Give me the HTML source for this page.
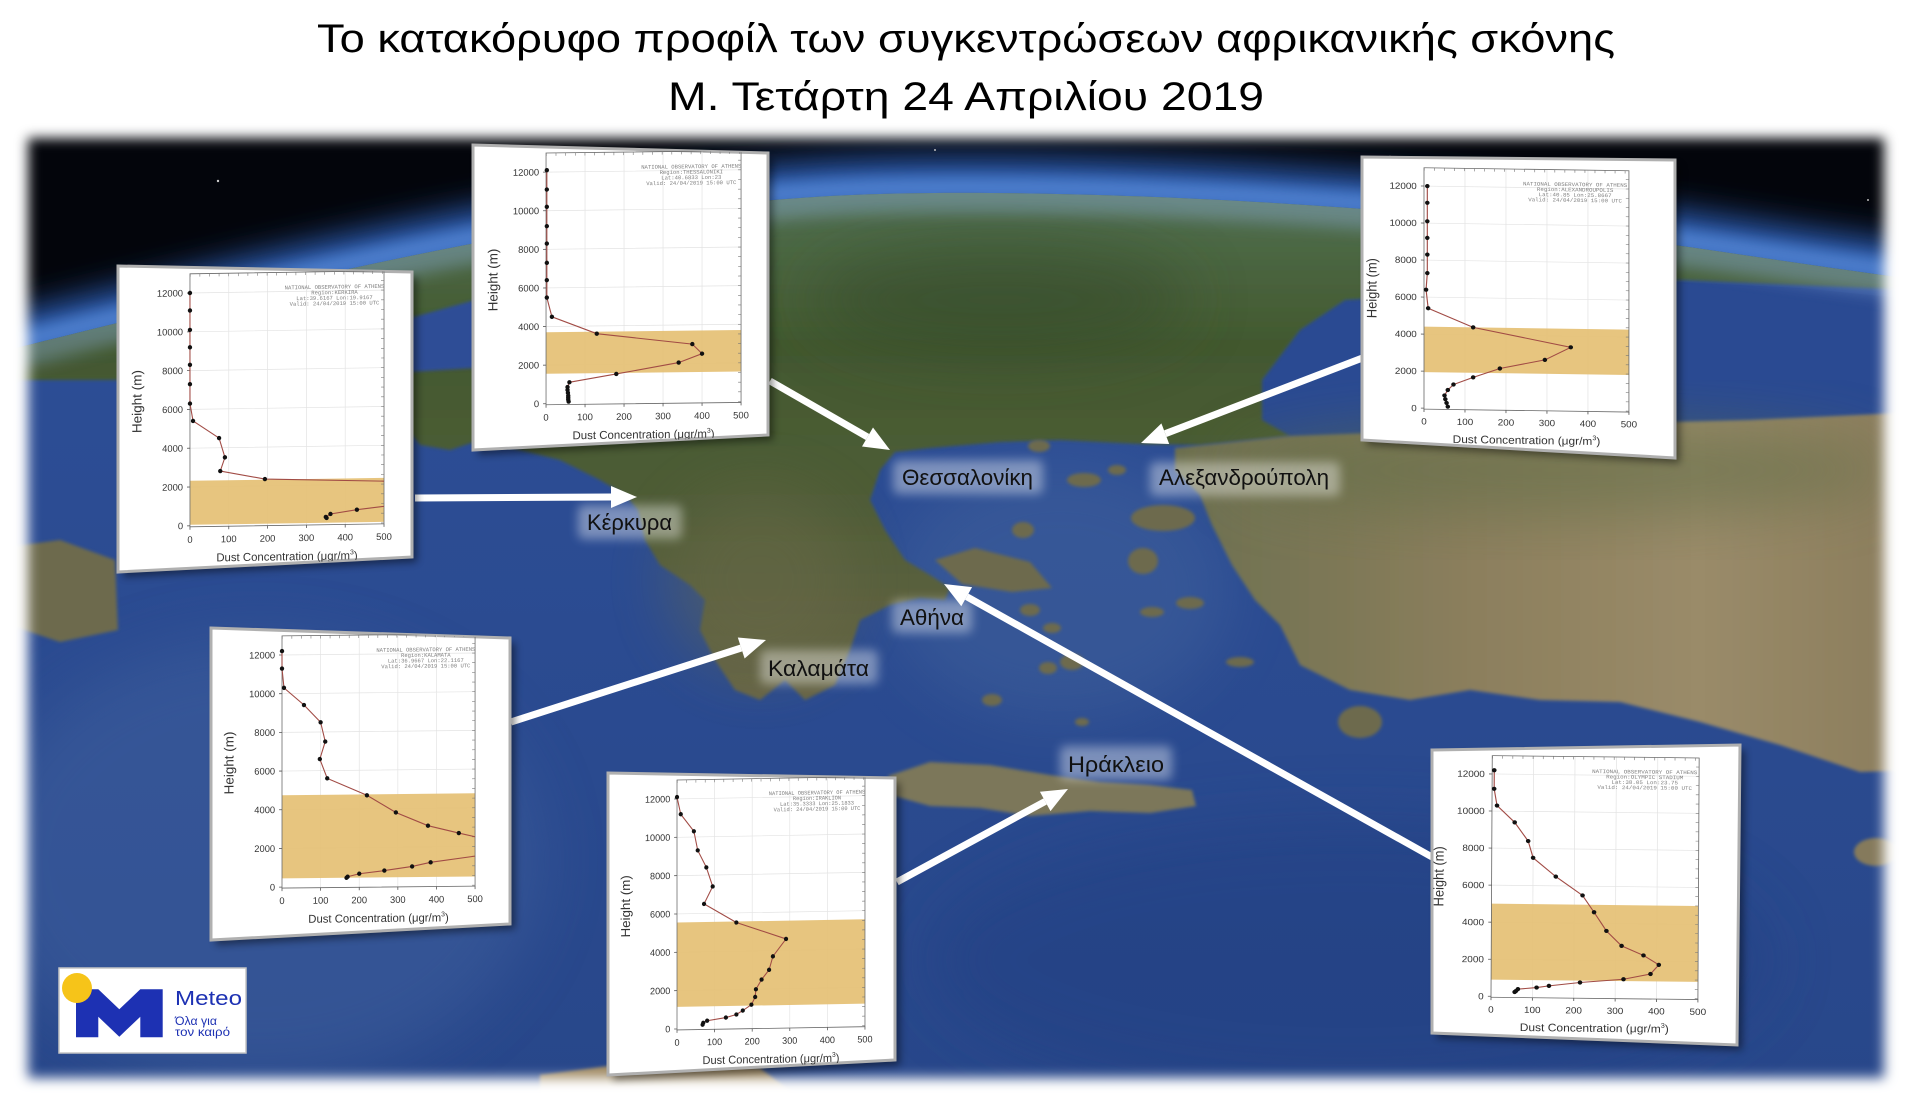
<!DOCTYPE html>
<html><head><meta charset="utf-8">
<style>
html,body{margin:0;padding:0;background:#fff;}
body{width:1920px;height:1099px;overflow:hidden;}
svg{display:block;}
</style></head>
<body>
<svg width="1920" height="1099" viewBox="0 0 1920 1099" xmlns="http://www.w3.org/2000/svg">
<defs>
 <filter id="fb6" x="-5%" y="-5%" width="110%" height="110%"><feGaussianBlur stdDeviation="6"/></filter>
 <filter id="glow" x="-10%" y="-40%" width="120%" height="180%"><feGaussianBlur stdDeviation="16"/></filter>
 <filter id="blurBig" x="-50%" y="-50%" width="200%" height="200%"><feGaussianBlur stdDeviation="30"/></filter>
 <filter id="soft" x="-10%" y="-10%" width="120%" height="120%"><feGaussianBlur stdDeviation="1.5"/></filter>
 <filter id="sh" x="-10%" y="-10%" width="130%" height="130%"><feGaussianBlur stdDeviation="4"/></filter>
 <filter id="haze" x="-30%" y="-60%" width="160%" height="220%"><feGaussianBlur stdDeviation="5"/></filter>
 <filter id="rim" x="-10%" y="-50%" width="120%" height="200%"><feGaussianBlur stdDeviation="8"/></filter>
 <mask id="mapMask" maskUnits="userSpaceOnUse" x="0" y="0" width="1920" height="1099">
   <rect x="28" y="138" width="1856" height="940" fill="#fff" filter="url(#fb6)"/>
 </mask>
 <clipPath id="earth"><path d="M0 352 C250 290 550 215 800 198 C900 190 1100 190 1350 208 C1550 222 1750 258 1920 280 L1920 1099 L0 1099Z"/></clipPath>
 <linearGradient id="seaG" gradientUnits="userSpaceOnUse" x1="0" y1="300" x2="0" y2="1099">
   <stop offset="0" stop-color="#2d4e96"/><stop offset="1" stop-color="#28478a"/>
 </linearGradient>
 <linearGradient id="landG" gradientUnits="userSpaceOnUse" x1="0" y1="190" x2="0" y2="700">
   <stop offset="0" stop-color="#527050"/><stop offset="0.3" stop-color="#42592f"/>
   <stop offset="0.65" stop-color="#515d38"/><stop offset="1" stop-color="#686647"/>
 </linearGradient>
 <linearGradient id="turkG" gradientUnits="userSpaceOnUse" x1="1180" y1="0" x2="1920" y2="0">
   <stop offset="0" stop-color="#6d7050"/><stop offset="0.4" stop-color="#8c7f5d"/>
   <stop offset="0.7" stop-color="#9a8b69"/><stop offset="1" stop-color="#8a7c5c"/>
 </linearGradient>
 <marker id="dot" markerWidth="6" markerHeight="6" refX="3" refY="3" markerUnits="userSpaceOnUse"><circle cx="3" cy="3" r="2.2" fill="#111"/></marker>
 <clipPath id="cp1"><polygon points="118,266 412,272 412,557 118,572"/></clipPath>
 <clipPath id="cp2"><polygon points="473,145 768,153 768,435 473,450"/></clipPath>
 <clipPath id="cp3"><polygon points="1362,157 1675,160 1675,458 1362,440"/></clipPath>
 <clipPath id="cp4"><polygon points="211,628 510,638 510,924 211,940"/></clipPath>
 <clipPath id="cp5"><polygon points="608,773 895,778 895,1060 608,1075"/></clipPath>
 <clipPath id="cp6"><polygon points="1432,750 1740,745 1737,1045 1432,1033"/></clipPath>
</defs>

<!-- Title -->
<g font-family="Liberation Sans, Arial, sans-serif" fill="#000" font-size="40">
 <text x="317" y="52" textLength="1298" lengthAdjust="spacingAndGlyphs">Το κατακόρυφο προφίλ των συγκεντρώσεων αφρικανικής σκόνης</text>
 <text x="668" y="110" textLength="596" lengthAdjust="spacingAndGlyphs">Μ. Τετάρτη 24 Απριλίου 2019</text>
</g>

<!-- Map -->
<g mask="url(#mapMask)">
 <rect x="0" y="100" width="1920" height="1000" fill="#03050b"/>
 <path d="M0 352 C250 290 550 215 800 198 C900 190 1100 190 1350 208 C1550 222 1750 258 1920 280 L1920 1099 L0 1099Z" transform="translate(0,-34)" fill="#2f5fb5" filter="url(#glow)"/>
 <path d="M0 352 C250 290 550 215 800 198 C900 190 1100 190 1350 208 C1550 222 1750 258 1920 280" transform="translate(0,-6)" fill="none" stroke="#5f92dc" stroke-width="16" opacity=".8" filter="url(#rim)"/>
 <circle cx="218" cy="181" r="1.2" fill="#ccc"/>
 <circle cx="1390" cy="157" r="1.2" fill="#ccc"/>
 <circle cx="935" cy="150" r="1" fill="#bbb"/>
 <circle cx="1868" cy="200" r="1" fill="#bbb"/>
 <g clip-path="url(#earth)">
  <rect x="0" y="150" width="1920" height="950" fill="url(#seaG)"/>
  <ellipse cx="1060" cy="590" rx="170" ry="130" fill="#46679f" opacity=".4" filter="url(#blurBig)"/>
  <ellipse cx="260" cy="860" rx="280" ry="220" fill="#40609e" opacity=".5" filter="url(#blurBig)"/>
  <ellipse cx="1350" cy="960" rx="420" ry="140" fill="#213f82" opacity=".5" filter="url(#blurBig)"/>
  <!-- Black sea -->
  <path d="M1345 300 L1300 330 L1262 380 L1262 420 L1290 436 L1400 432 L1600 424 L1750 420 L1920 412 L1920 300 L1800 288 L1681 282 L1500 292Z" fill="#2a4a92"/>
  <!-- Europe / Balkans / Greece -->
  <path filter="url(#soft)" fill="url(#landG)" d="M0 150 L1920 150 L1920 290 L1681 280 L1500 290 L1345 300 L1300 330 L1262 380 L1262 420 L1290 436 L1200 445 L1140 444 L1060 440 L1000 442 L930 448 L895 452 L880 470 L870 500 L885 530 L905 560 L930 575 L950 588 L945 600 L920 598 L890 605 L860 620 L850 650 L835 685 L805 700 L785 680 L760 700 L735 690 L715 660 L700 630 L705 600 L690 585 L660 565 L645 540 L638 510 L625 495 L600 480 L560 460 L520 450 L480 440 L450 450 L420 445 L400 420 L300 400 L118 380 L0 380Z"/>
  <ellipse cx="1000" cy="300" rx="190" ry="55" fill="#34492b" opacity=".55" filter="url(#blurBig)"/>
  <ellipse cx="760" cy="580" rx="90" ry="90" fill="#6a6a4a" opacity=".45" filter="url(#blurBig)"/>
  <!-- Adriatic strip -->
  <path d="M410 318 L475 300 L475 368 L410 372Z" fill="#2d4e96" filter="url(#soft)"/>
  <!-- Turkey -->
  <path filter="url(#soft)" fill="url(#turkG)" d="M1175 448 L1290 436 L1400 432 L1600 424 L1750 420 L1920 412 L1920 770 L1860 772 L1780 745 L1700 722 L1620 702 L1540 700 L1470 690 L1410 700 L1350 690 L1300 665 L1280 625 L1255 600 L1232 565 L1212 525 L1200 495 L1175 470Z"/>
  <ellipse cx="1560" cy="470" rx="330" ry="45" fill="#5d6c45" opacity=".55" filter="url(#blurBig)"/>
  <!-- islands -->
  <g fill="#6d6a4e" filter="url(#soft)">
   <ellipse cx="1039" cy="446" rx="11" ry="6"/>
   <ellipse cx="1117" cy="470" rx="9" ry="5"/>
   <ellipse cx="1084" cy="480" rx="17" ry="7"/>
   <ellipse cx="1163" cy="518" rx="32" ry="13"/>
   <ellipse cx="1143" cy="561" rx="15" ry="13"/>
   <ellipse cx="1023" cy="530" rx="11" ry="8"/>
   <path d="M935 560 L975 548 L1030 562 L1052 588 L1012 592 L962 584Z"/>
   <ellipse cx="1030" cy="610" rx="10" ry="6"/>
   <ellipse cx="1052" cy="628" rx="9" ry="5"/>
   <ellipse cx="1072" cy="662" rx="12" ry="8"/>
   <ellipse cx="1048" cy="668" rx="9" ry="6"/>
   <ellipse cx="992" cy="700" rx="10" ry="6"/>
   <ellipse cx="1082" cy="722" rx="7" ry="4"/>
   <ellipse cx="1190" cy="603" rx="14" ry="6"/>
   <ellipse cx="1152" cy="612" rx="12" ry="5"/>
   <ellipse cx="1240" cy="662" rx="14" ry="5"/>
   <ellipse cx="1360" cy="722" rx="22" ry="16"/>
   <path d="M0 548 L60 540 L115 560 L118 630 L60 642 L0 622Z"/>
  </g>
  <!-- Crete -->
  <path filter="url(#soft)" fill="#7b775a" d="M888 776 L930 762 L990 765 L1050 775 L1100 782 L1150 785 L1192 790 L1196 806 L1150 813 L1090 811 L1030 816 L980 808 L930 806 L894 796Z"/>
  <ellipse cx="1876" cy="852" rx="22" ry="14" fill="#857a5c" filter="url(#soft)"/>
  <path d="M540 1075 L640 1062 L760 1068 L800 1099 L540 1099Z" fill="#a08a62" filter="url(#soft)"/>
  <!-- horizon haze -->
  <path d="M0 352 C250 290 550 215 800 198 C900 190 1100 190 1350 208 C1550 222 1750 258 1920 280" fill="none" stroke="#8fb0e0" stroke-width="40" opacity=".4" filter="url(#rim)"/>
 </g>
</g>

<!-- Place labels -->
<g fill="#fff" opacity=".38" filter="url(#haze)">
 <rect x="893" y="460" width="150" height="34" rx="6"/>
 <rect x="1150" y="462" width="190" height="34" rx="6"/>
 <rect x="892" y="600" width="80" height="33" rx="6"/>
 <rect x="578" y="505" width="104" height="34" rx="6"/>
 <rect x="760" y="650" width="118" height="34" rx="6"/>
 <rect x="1060" y="746" width="112" height="34" rx="6"/>
</g>
<g font-family="Liberation Sans, Arial, sans-serif" font-size="22" fill="#111">
 <text x="902" y="485" textLength="131" lengthAdjust="spacingAndGlyphs">Θεσσαλονίκη</text>
 <text x="1159" y="485" textLength="170" lengthAdjust="spacingAndGlyphs">Αλεξανδρούπολη</text>
 <text x="900" y="625" textLength="64" lengthAdjust="spacingAndGlyphs">Αθήνα</text>
 <text x="587" y="530" textLength="85" lengthAdjust="spacingAndGlyphs">Κέρκυρα</text>
 <text x="768" y="676" textLength="101" lengthAdjust="spacingAndGlyphs">Καλαμάτα</text>
 <text x="1068" y="772" textLength="96" lengthAdjust="spacingAndGlyphs">Ηράκλειο</text>
</g>

<!-- Arrows -->
<g stroke="#fff" stroke-width="7" fill="none" stroke-linecap="butt">
 <line x1="415" y1="498" x2="612" y2="497"/>
 <line x1="770" y1="381" x2="867.5" y2="437"/>
 <line x1="1365" y1="357" x2="1165.3" y2="433.7"/>
 <line x1="1432" y1="857" x2="966.7" y2="596.7"/>
 <line x1="511" y1="722" x2="741.2" y2="648"/>
 <line x1="897" y1="882" x2="1045.2" y2="801.4"/>
</g>
<g fill="#fff">
 <polygon points="637,497 611,508 611,486"/>
 <polygon points="890,450 862,446.5 873,427.5"/>
 <polygon points="1141,443 1161.4,423.4 1169.2,444"/>
 <polygon points="944,584 972.1,587.1 961.3,606.3"/>
 <polygon points="766,640 744.6,658.5 737.8,637.5"/>
 <polygon points="1068,789 1050.5,811.1 1039.9,791.7"/>
</g>

<!-- Panel shadows and backgrounds -->
<g fill="#000" opacity=".45" filter="url(#sh)">
 <polygon points="123,271 417,277 417,562 123,577"/>
 <polygon points="478,150 773,158 773,440 478,455"/>
 <polygon points="1367,162 1680,165 1680,463 1367,445"/>
 <polygon points="216,633 515,643 515,929 216,945"/>
 <polygon points="613,778 900,783 900,1065 613,1080"/>
 <polygon points="1437,755 1745,750 1742,1050 1437,1038"/>
</g>
<g fill="#fff" stroke="#b0b0b0" stroke-width="3">
 <polygon points="118,266 412,272 412,557 118,572"/>
 <polygon points="473,145 768,153 768,435 473,450"/>
 <polygon points="1362,157 1675,160 1675,458 1362,440"/>
 <polygon points="211,628 510,638 510,924 211,940"/>
 <polygon points="608,773 895,778 895,1060 608,1075"/>
 <polygon points="1432,750 1740,745 1737,1045 1432,1033"/>
</g>

<!-- Panel 1: Kerkyra -->
<g clip-path="url(#cp1)"><g transform="matrix(0.99,-0.015,0,1,117.7,266.9)">
 <path d="M112.2 8V261M151.4 8V261M190.6 8V261M229.8 8V261M73 221.2H269M73 182.4H269M73 143.6H269M73 104.8H269M73 66H269M73 27.2H269" stroke="#e3e3e3" stroke-width=".7" fill="none"/>
 <rect x="73" y="215" width="196" height="44" fill="#e5c074" fill-opacity=".92"/>
 <rect x="73" y="8" width="196" height="253" fill="none" stroke="#6a6a6a" stroke-width=".8"/>
 <path d="M267.5 260.3V8M73 9.5H269" stroke="#777" stroke-width="3" stroke-dasharray=".6 9.1" fill="none"/>
 <path d="M73 260h-3M73 221.2h-3M73 182.4h-3M73 143.6h-3M73 104.8h-3M73 66h-3M73 27.2h-3M73 261v3M112.2 261v3M151.4 261v3M190.6 261v3M229.8 261v3M269 261v3" stroke="#555" stroke-width=".8"/>
 <polyline points="73,27.2 73,44.7 73,64.1 73,81.5 73,99 73,118.4 73,137.8 76.1,155.2 102.4,172.7 108.3,192.1 103.6,205.7 148.7,214.4 269,218.3" fill="none" stroke="#a14b45" stroke-width="1.1"/>
 <polyline points="269,243.5 241.6,246.4 214.9,250.3 210.2,253.2 211,254.2" fill="none" stroke="#a14b45" stroke-width="1.1"/>
 <polyline points="73,27.2 73,44.7 73,64.1 73,81.5 73,99 73,118.4 73,137.8 76.1,155.2 102.4,172.7 108.3,192.1 103.6,205.7 148.7,214.4" fill="none" stroke="none" marker-start="url(#dot)" marker-mid="url(#dot)" marker-end="url(#dot)"/>
 <polyline points="241.6,246.4 214.9,250.3 210.2,253.2 211,254.2" fill="none" stroke="none" marker-start="url(#dot)" marker-mid="url(#dot)" marker-end="url(#dot)"/>
 <g font-family="Liberation Mono, monospace" font-size="5.6" fill="#808080" text-anchor="middle">
  <text x="219" y="25">NATIONAL OBSERVATORY OF ATHENS</text>
  <text x="219" y="30.5">Region:KERKIRA</text>
  <text x="219" y="36">Lat:39.6167  Lon:19.9167</text>
  <text x="219" y="41.5">Valid: 24/04/2019 15:00 UTC</text>
 </g>
 <g font-family="Liberation Sans, Arial, sans-serif" fill="#333" font-size="9.5">
  <g text-anchor="end"><text x="66" y="263.3">0</text><text x="66" y="224.5">2000</text><text x="66" y="185.7">4000</text><text x="66" y="146.9">6000</text><text x="66" y="108.1">8000</text><text x="66" y="69.3">10000</text><text x="66" y="30.5">12000</text></g>
  <g text-anchor="middle"><text x="73" y="277">0</text><text x="112.2" y="277">100</text><text x="151.4" y="277">200</text><text x="190.6" y="277">300</text><text x="229.8" y="277">400</text><text x="269" y="277">500</text></g>
  <text x="171" y="296" font-size="11.5" text-anchor="middle">Dust Concentration (μgr/m<tspan font-size="7" dy="-5">3</tspan><tspan dy="5">)</tspan></text>
  <text transform="translate(24 135) rotate(-90)" font-size="13.5" text-anchor="middle">Height (m)</text>
 </g>
</g></g>

<!-- Panel 2: Thessaloniki -->
<g clip-path="url(#cp2)"><g transform="matrix(0.995,-0.0117,0,0.995,473.4,145.9)">
 <path d="M112.2 8V261M151.4 8V261M190.6 8V261M229.8 8V261M73 221.2H269M73 182.4H269M73 143.6H269M73 104.8H269M73 66H269M73 27.2H269" stroke="#e3e3e3" stroke-width=".7" fill="none"/>
 <rect x="73" y="188.2" width="196" height="41.7" fill="#e5c074" fill-opacity=".92"/>
 <rect x="73" y="8" width="196" height="253" fill="none" stroke="#6a6a6a" stroke-width=".8"/>
 <path d="M267.5 260.3V8M73 9.5H269" stroke="#777" stroke-width="3" stroke-dasharray=".6 9.1" fill="none"/>
 <path d="M73 260h-3M73 221.2h-3M73 182.4h-3M73 143.6h-3M73 104.8h-3M73 66h-3M73 27.2h-3M73 261v3M112.2 261v3M151.4 261v3M190.6 261v3M229.8 261v3M269 261v3" stroke="#555" stroke-width=".8"/>
 <polyline points="73.8,25.3 73.8,44.7 73.8,62.1 73.8,81.5 73.8,99 73.8,118.4 73.8,135.8 73.8,153.3 78.9,172.7 124,190.2 220,201.8 229.8,211.5 206.3,220.2 143.6,230.9 96.5,238.7 94.6,243.5 94.6,246.4 95,249.3 95.3,252.2 95.3,254.2 95.3,256.1 95.7,258.1" fill="none" stroke="#a14b45" stroke-width="1.1" marker-start="url(#dot)" marker-mid="url(#dot)" marker-end="url(#dot)"/>
 <g font-family="Liberation Mono, monospace" font-size="5.6" fill="#808080" text-anchor="middle">
  <text x="219" y="25">NATIONAL OBSERVATORY OF ATHENS</text>
  <text x="219" y="30.5">Region:THESSALONIKI</text>
  <text x="219" y="36">Lat:40.6833  Lon:23</text>
  <text x="219" y="41.5">Valid: 24/04/2019 15:00 UTC</text>
 </g>
 <g font-family="Liberation Sans, Arial, sans-serif" fill="#333" font-size="9.5">
  <g text-anchor="end"><text x="66" y="263.3">0</text><text x="66" y="224.5">2000</text><text x="66" y="185.7">4000</text><text x="66" y="146.9">6000</text><text x="66" y="108.1">8000</text><text x="66" y="69.3">10000</text><text x="66" y="30.5">12000</text></g>
  <g text-anchor="middle"><text x="73" y="277">0</text><text x="112.2" y="277">100</text><text x="151.4" y="277">200</text><text x="190.6" y="277">300</text><text x="229.8" y="277">400</text><text x="269" y="277">500</text></g>
  <text x="171" y="296" font-size="11.5" text-anchor="middle">Dust Concentration (μgr/m<tspan font-size="7" dy="-5">3</tspan><tspan dy="5">)</tspan></text>
  <text transform="translate(24 135) rotate(-90)" font-size="13.5" text-anchor="middle">Height (m)</text>
 </g>
</g></g>

<!-- Panel 3: Alexandroupoli -->
<g clip-path="url(#cp3)"><g transform="matrix(1.035,0.015,0,0.954,1361.9,159.2)">
 <path d="M99.6 8V261M139.2 8V261M178.8 8V261M218.4 8V261M60 221.2H258M60 182.4H258M60 143.6H258M60 104.8H258M60 66H258M60 27.2H258" stroke="#e3e3e3" stroke-width=".7" fill="none"/>
 <rect x="60" y="174.6" width="198" height="47.6" fill="#e5c074" fill-opacity=".92"/>
 <rect x="60" y="8" width="198" height="253" fill="none" stroke="#6a6a6a" stroke-width=".8"/>
 <path d="M256.5 260.3V8M60 9.5H258" stroke="#777" stroke-width="3" stroke-dasharray=".6 9.1" fill="none"/>
 <path d="M60 260h-3M60 221.2h-3M60 182.4h-3M60 143.6h-3M60 104.8h-3M60 66h-3M60 27.2h-3M60 261v3M99.6 261v3M139.2 261v3M178.8 261v3M218.4 261v3M258 261v3" stroke="#555" stroke-width=".8"/>
 <polyline points="63.2,27.2 63.2,44.7 63.2,64.1 63.2,81.5 63.2,99 63.2,118.4 62,135.8 64,155.2 107.5,174.6 201.8,194 176.8,207.6 133.3,217.3 107.5,227 88.5,234.8 83,240.6 79.8,246.4 80.6,250.3 81.8,254.2 83,258.1" fill="none" stroke="#a14b45" stroke-width="1.1" marker-start="url(#dot)" marker-mid="url(#dot)" marker-end="url(#dot)"/>
 <g font-family="Liberation Mono, monospace" font-size="5.6" fill="#808080" text-anchor="middle">
  <text x="206" y="25">NATIONAL OBSERVATORY OF ATHENS</text>
  <text x="206" y="30.5">Region:ALEXANDROUPOLIS</text>
  <text x="206" y="36">Lat:40.85  Lon:25.8667</text>
  <text x="206" y="41.5">Valid: 24/04/2019 15:00 UTC</text>
 </g>
 <g font-family="Liberation Sans, Arial, sans-serif" fill="#333" font-size="9.5">
  <g text-anchor="end"><text x="53" y="263.3">0</text><text x="53" y="224.5">2000</text><text x="53" y="185.7">4000</text><text x="53" y="146.9">6000</text><text x="53" y="108.1">8000</text><text x="53" y="69.3">10000</text><text x="53" y="30.5">12000</text></g>
  <g text-anchor="middle"><text x="60" y="277">0</text><text x="99.6" y="277">100</text><text x="139.2" y="277">200</text><text x="178.8" y="277">300</text><text x="218.4" y="277">400</text><text x="258" y="277">500</text></g>
  <text x="159" y="296" font-size="11.5" text-anchor="middle">Dust Concentration (μgr/m<tspan font-size="7" dy="-5">3</tspan><tspan dy="5">)</tspan></text>
  <text transform="translate(14 135) rotate(-90)" font-size="13.5" text-anchor="middle">Height (m)</text>
 </g>
</g></g>

<!-- Panel 4: Kalamata -->
<g clip-path="url(#cp4)"><g transform="matrix(0.985,-0.01,0,0.997,210.1,628.6)">
 <path d="M112.2 8V261M151.4 8V261M190.6 8V261M229.8 8V261M73 221.2H269M73 182.4H269M73 143.6H269M73 104.8H269M73 66H269M73 27.2H269" stroke="#e3e3e3" stroke-width=".7" fill="none"/>
 <rect x="73" y="167.9" width="196" height="83.4" fill="#e5c074" fill-opacity=".92"/>
 <rect x="73" y="8" width="196" height="253" fill="none" stroke="#6a6a6a" stroke-width=".8"/>
 <path d="M267.5 260.3V8M73 9.5H269" stroke="#777" stroke-width="3" stroke-dasharray=".6 9.1" fill="none"/>
 <path d="M73 260h-3M73 221.2h-3M73 182.4h-3M73 143.6h-3M73 104.8h-3M73 66h-3M73 27.2h-3M73 261v3M112.2 261v3M151.4 261v3M190.6 261v3M229.8 261v3M269 261v3" stroke="#555" stroke-width=".8"/>
 <polyline points="73,23.3 73,40.8 75,60.2 95.3,77.6 112.2,95.1 116.9,114.5 111.4,132 118.9,151.4 159.2,168.8 188.6,186.3 221.2,199.9 252.5,207.6 269,211.5" fill="none" stroke="#a14b45" stroke-width="1.1"/>
 <polyline points="269,230.9 223.9,236.7 205.1,240.6 176.9,244.5 151.4,247.4 139.6,250.3 138.5,251.3" fill="none" stroke="#a14b45" stroke-width="1.1"/>
 <polyline points="73,23.3 73,40.8 75,60.2 95.3,77.6 112.2,95.1 116.9,114.5 111.4,132 118.9,151.4 159.2,168.8 188.6,186.3 221.2,199.9 252.5,207.6" fill="none" stroke="none" marker-start="url(#dot)" marker-mid="url(#dot)" marker-end="url(#dot)"/>
 <polyline points="223.9,236.7 205.1,240.6 176.9,244.5 151.4,247.4 139.6,250.3 138.5,251.3" fill="none" stroke="none" marker-start="url(#dot)" marker-mid="url(#dot)" marker-end="url(#dot)"/>
 <g font-family="Liberation Mono, monospace" font-size="5.6" fill="#808080" text-anchor="middle">
  <text x="219" y="25">NATIONAL OBSERVATORY OF ATHENS</text>
  <text x="219" y="30.5">Region:KALAMATA</text>
  <text x="219" y="36">Lat:36.9667  Lon:22.1167</text>
  <text x="219" y="41.5">Valid: 24/04/2019 15:00 UTC</text>
 </g>
 <g font-family="Liberation Sans, Arial, sans-serif" fill="#333" font-size="9.5">
  <g text-anchor="end"><text x="66" y="263.3">0</text><text x="66" y="224.5">2000</text><text x="66" y="185.7">4000</text><text x="66" y="146.9">6000</text><text x="66" y="108.1">8000</text><text x="66" y="69.3">10000</text><text x="66" y="30.5">12000</text></g>
  <g text-anchor="middle"><text x="73" y="277">0</text><text x="112.2" y="277">100</text><text x="151.4" y="277">200</text><text x="190.6" y="277">300</text><text x="229.8" y="277">400</text><text x="269" y="277">500</text></g>
  <text x="171" y="296" font-size="11.5" text-anchor="middle">Dust Concentration (μgr/m<tspan font-size="7" dy="-5">3</tspan><tspan dy="5">)</tspan></text>
  <text transform="translate(24 135) rotate(-90)" font-size="13.5" text-anchor="middle">Height (m)</text>
 </g>
</g></g>

<!-- Panel 5: Heraklion -->
<g clip-path="url(#cp5)"><g transform="matrix(0.959,-0.0167,0,0.988,607,773.3)">
 <path d="M112.2 8V261M151.4 8V261M190.6 8V261M229.8 8V261M73 221.2H269M73 182.4H269M73 143.6H269M73 104.8H269M73 66H269M73 27.2H269" stroke="#e3e3e3" stroke-width=".7" fill="none"/>
 <rect x="73" y="152.3" width="196" height="85.4" fill="#e5c074" fill-opacity=".92"/>
 <rect x="73" y="8" width="196" height="253" fill="none" stroke="#6a6a6a" stroke-width=".8"/>
 <path d="M267.5 260.3V8M73 9.5H269" stroke="#777" stroke-width="3" stroke-dasharray=".6 9.1" fill="none"/>
 <path d="M73 260h-3M73 221.2h-3M73 182.4h-3M73 143.6h-3M73 104.8h-3M73 66h-3M73 27.2h-3M73 261v3M112.2 261v3M151.4 261v3M190.6 261v3M229.8 261v3M269 261v3" stroke="#555" stroke-width=".8"/>
 <polyline points="73,25.3 76.9,42.7 90.6,60.2 94.6,79.6 103.6,97 110.2,116.4 101.2,133.9 134.9,153.3 186.7,170.8 173,188.2 169,201.8 161.2,211.5 155.3,221.2 154.5,229 150.6,236.7 141.6,242.5 134.9,246.4 124,249.3 104.4,252.2 100.4,254.2 99.7,256.1" fill="none" stroke="#a14b45" stroke-width="1.1" marker-start="url(#dot)" marker-mid="url(#dot)" marker-end="url(#dot)"/>
 <g font-family="Liberation Mono, monospace" font-size="5.6" fill="#808080" text-anchor="middle">
  <text x="219" y="25">NATIONAL OBSERVATORY OF ATHENS</text>
  <text x="219" y="30.5">Region:IRAKLION</text>
  <text x="219" y="36">Lat:35.3333  Lon:25.1833</text>
  <text x="219" y="41.5">Valid: 24/04/2019 15:00 UTC</text>
 </g>
 <g font-family="Liberation Sans, Arial, sans-serif" fill="#333" font-size="9.5">
  <g text-anchor="end"><text x="66" y="263.3">0</text><text x="66" y="224.5">2000</text><text x="66" y="185.7">4000</text><text x="66" y="146.9">6000</text><text x="66" y="108.1">8000</text><text x="66" y="69.3">10000</text><text x="66" y="30.5">12000</text></g>
  <g text-anchor="middle"><text x="73" y="277">0</text><text x="112.2" y="277">100</text><text x="151.4" y="277">200</text><text x="190.6" y="277">300</text><text x="229.8" y="277">400</text><text x="269" y="277">500</text></g>
  <text x="171" y="296" font-size="11.5" text-anchor="middle">Dust Concentration (μgr/m<tspan font-size="7" dy="-5">3</tspan><tspan dy="5">)</tspan></text>
  <text transform="translate(24 135) rotate(-90)" font-size="13.5" text-anchor="middle">Height (m)</text>
 </g>
</g></g>

<!-- Panel 6: Athens -->
<g clip-path="url(#cp6)"><g transform="matrix(1.045,0.0117,-0.005,0.955,1429.6,747.3)">
 <path d="M99.6 8V261M139.2 8V261M178.8 8V261M218.4 8V261M60 221.2H258M60 182.4H258M60 143.6H258M60 104.8H258M60 66H258M60 27.2H258" stroke="#e3e3e3" stroke-width=".7" fill="none"/>
 <rect x="60" y="163" width="198" height="79.5" fill="#e5c074" fill-opacity=".92"/>
 <rect x="60" y="8" width="198" height="253" fill="none" stroke="#6a6a6a" stroke-width=".8"/>
 <path d="M256.5 260.3V8M60 9.5H258" stroke="#777" stroke-width="3" stroke-dasharray=".6 9.1" fill="none"/>
 <path d="M60 260h-3M60 221.2h-3M60 182.4h-3M60 143.6h-3M60 104.8h-3M60 66h-3M60 27.2h-3M60 261v3M99.6 261v3M139.2 261v3M178.8 261v3M218.4 261v3M258 261v3" stroke="#555" stroke-width=".8"/>
 <polyline points="62,23.3 62,42.7 64.8,60.2 81.8,77.6 94.8,97 99.6,114.5 121.4,133.9 147.1,153.3 158.2,170.8 170.1,190.2 184.7,205.7 205.7,215.4 220.4,225.1 212.5,234.8 186.7,240.6 145.1,244.5 115.4,248.4 103.6,250.3 85.7,252.2 83.8,254.2 82.6,255.2" fill="none" stroke="#a14b45" stroke-width="1.1" marker-start="url(#dot)" marker-mid="url(#dot)" marker-end="url(#dot)"/>
 <g font-family="Liberation Mono, monospace" font-size="5.6" fill="#808080" text-anchor="middle">
  <text x="206" y="25">NATIONAL OBSERVATORY OF ATHENS</text>
  <text x="206" y="30.5">Region:OLYMPIC STADIUM</text>
  <text x="206" y="36">Lat:38.05  Lon:23.75</text>
  <text x="206" y="41.5">Valid: 24/04/2019 15:00 UTC</text>
 </g>
 <g font-family="Liberation Sans, Arial, sans-serif" fill="#333" font-size="9.5">
  <g text-anchor="end"><text x="53" y="263.3">0</text><text x="53" y="224.5">2000</text><text x="53" y="185.7">4000</text><text x="53" y="146.9">6000</text><text x="53" y="108.1">8000</text><text x="53" y="69.3">10000</text><text x="53" y="30.5">12000</text></g>
  <g text-anchor="middle"><text x="60" y="277">0</text><text x="99.6" y="277">100</text><text x="139.2" y="277">200</text><text x="178.8" y="277">300</text><text x="218.4" y="277">400</text><text x="258" y="277">500</text></g>
  <text x="159" y="296" font-size="11.5" text-anchor="middle">Dust Concentration (μgr/m<tspan font-size="7" dy="-5">3</tspan><tspan dy="5">)</tspan></text>
  <text transform="translate(14 135) rotate(-90)" font-size="13.5" text-anchor="middle">Height (m)</text>
 </g>
</g></g>

<!-- Logo -->
<rect x="59" y="968" width="187" height="85" fill="#fff" stroke="#c4c4c4" stroke-width="1.5"/>
<polygon fill="#1d31b3" points="76,989.3 98.3,989.3 119.3,1009.3 140.3,989.3 162.7,989.3 162.7,1037.3 140.3,1037.3 140.3,1016.7 119.3,1036.7 98.3,1016.7 98.3,1037.3 76,1037.3"/>
<circle cx="77" cy="988" r="15" fill="#f6c419"/>
<g font-family="Liberation Sans, Arial, sans-serif" fill="#1d31b3">
 <text x="175" y="1005" font-size="20" textLength="67" lengthAdjust="spacingAndGlyphs">Meteo</text>
 <text x="175" y="1025" font-size="12" textLength="42" lengthAdjust="spacingAndGlyphs">Όλα για</text>
 <text x="175" y="1036" font-size="12" textLength="55" lengthAdjust="spacingAndGlyphs">τον καιρό</text>
</g>
</svg>
</body></html>
